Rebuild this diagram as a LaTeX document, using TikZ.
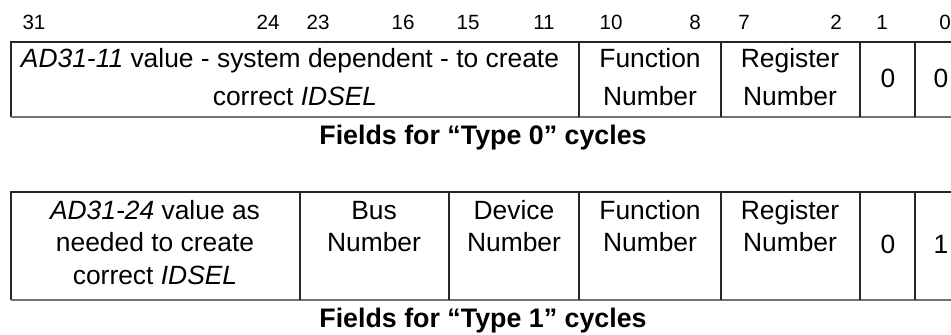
\documentclass[tikz,border=0pt]{standalone}
\usepackage{fontspec}
\setmainfont{Liberation Sans}
\begin{document}
\begin{tikzpicture}[x=0.5pt,y=-0.5pt,
  cell/.style={font=\fontsize{13.2}{15}\selectfont, anchor=base, inner sep=0pt},
  bit/.style={font=\fontsize{10.3}{12}\selectfont, anchor=base, inner sep=0pt},
  captext/.style={font=\bfseries\fontsize{13.4}{15}\selectfont, anchor=base, inner sep=0pt},
  rule/.style={line width=0.6pt, draw=black!85},
  botrule/.style={line width=1.1pt, draw=black!55}]
\useasboundingbox (0,0) rectangle (951,335);
\begin{scope}
\clip (0,0) rectangle (951,335);
% bit numbers
\node[bit] (b31) at (34,30) {31};
\node[bit] (b24) at (268,30) {24};
\node[bit] (b23) at (318,30) {23};
\node[bit] (b16) at (403,30) {16};
\node[bit] (b15) at (468,30) {15};
\node[bit] (b11) at (544,30) {11};
\node[bit] (b10) at (611,30) {10};
\node[bit] (b8) at (695,30) {8};
\node[bit] (b7) at (744,30) {7};
\node[bit] (b2) at (836,30) {2};
\node[bit] (b1) at (882,30) {1};
\node[bit] (b0) at (945,30) {0};
% table type 0
\draw[rule] (11,117) -- (11,42) -- (980,42);
\draw[botrule] (11,117) -- (980,117);
\foreach \x in {579,721,860,915} \draw[rule] (\x,42) -- (\x,117);
\node[cell] (a1) at (290,68) {\textit{AD31-11} value - system dependent - to create};
\node[cell] (a2) at (295,106) {correct \textit{IDSEL}};
\node[cell] (f1) at (650,68) {Function};
\node[cell] (f2) at (650,106) {Number};
\node[cell] (r1) at (790,68) {Register};
\node[cell] (r2) at (790,106) {Number};
\node[cell] (z1) at (888,88) {0};
\node[cell] (z0) at (941,88) {0};
\node[captext] (c0) at (483,145) {Fields for “Type 0” cycles};
% table type 1
\draw[rule] (11,300) -- (11,192) -- (980,192);
\draw[botrule] (11,300) -- (980,300);
\foreach \x in {300,449,579,721,860,915} \draw[rule] (\x,192) -- (\x,300);
\node[cell] (d1) at (155,220) {\textit{AD31-24} value as};
\node[cell] (d2) at (155,252) {needed to create};
\node[cell] (d3) at (155,285) {correct \textit{IDSEL}};
\node[cell] (bu1) at (374,220) {Bus};
\node[cell] (bu2) at (374,252) {Number};
\node[cell] (de1) at (514,220) {Device};
\node[cell] (de2) at (514,252) {Number};
\node[cell] (fu1) at (650,220) {Function};
\node[cell] (fu2) at (650,252) {Number};
\node[cell] (re1) at (790,220) {Register};
\node[cell] (re2) at (790,252) {Number};
\node[cell] (y1) at (888,254) {0};
\node[cell] (y0) at (941,254) {1};
\node[captext] (c1) at (483,328) {Fields for “Type 1” cycles};
\end{scope}
\end{tikzpicture}
\end{document}
